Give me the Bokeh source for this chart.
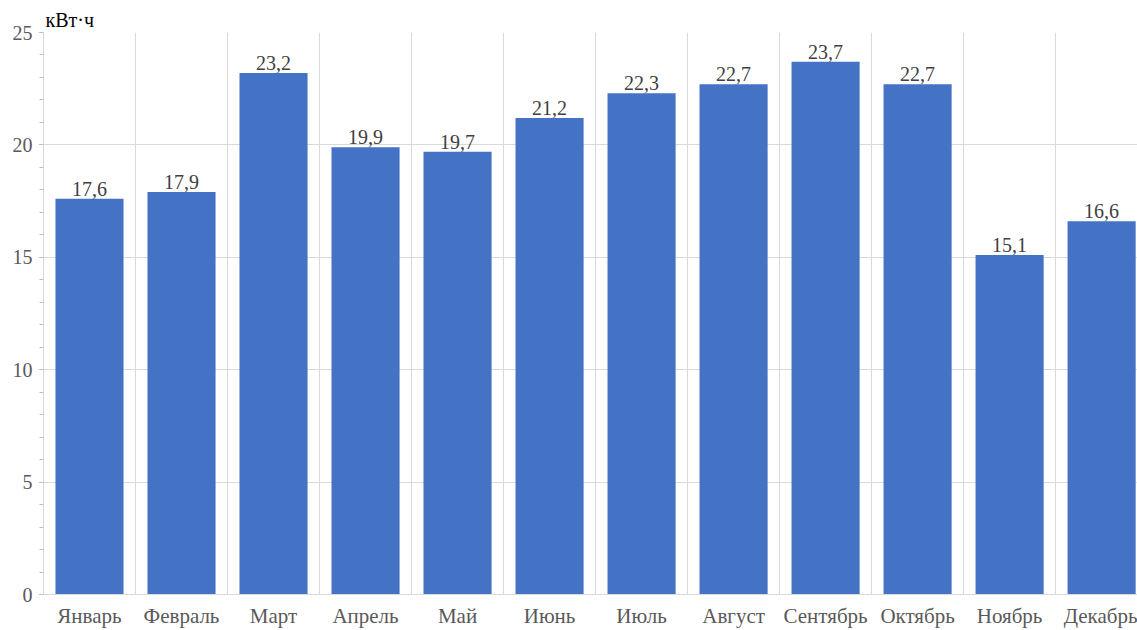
from bokeh.plotting import figure
from bokeh.models import ColumnDataSource, FixedTicker, LabelSet, Range1d
from bokeh.embed import file_html
from bokeh.resources import INLINE

months = ["Январь", "Февраль", "Март", "Апрель", "Май", "Июнь", "Июль",
          "Август", "Сентябрь", "Октябрь", "Ноябрь", "Декабрь"]
values = [17.6, 17.9, 23.2, 19.9, 19.7, 21.2, 22.3, 22.7, 23.7, 22.7, 15.1, 16.6]
y_ticks = [0, 5, 10, 15, 20, 25]
unit = "кВт·ч"

FONT = "Liberation Serif"
FS = "20px"
pos = [i + 0.5 for i in range(len(months))]
src = ColumnDataSource(dict(x=pos, top=values,
                            label=[f"{v:.1f}".replace(".", ",") for v in values]))

p = figure(width=1137, height=630, output_backend="svg", toolbar_location=None,
           x_range=Range1d(0, 11.89), y_range=Range1d(0, 25),
           title=unit)
p.min_border_left = 43
p.min_border_right = 0
p.min_border_top = 32
p.min_border_bottom = 34
p.outline_line_color = None
p.background_fill_color = "white"
p.border_fill_color = "white"

p.title.align = "left"
p.title.vertical_align = "bottom"
p.title.text_font = FONT
p.title.text_font_size = FS
p.title.text_font_style = "normal"
p.title.text_color = "#000000"
p.title.offset = 2
p.title.standoff = 3

p.vbar(x="x", top="top", width=0.74, bottom=0, source=src,
       fill_color="#4472C4", line_color=None)

p.add_layout(LabelSet(x="x", y="top", text="label", source=src,
                      text_align="center", text_baseline="bottom", y_offset=3,
                      text_font=FONT, text_font_size=FS, text_color="#404040"))

# x axis
p.xaxis.ticker = FixedTicker(ticks=pos)
p.xaxis.major_label_overrides = {x: m for x, m in zip(pos, months)}
p.xaxis.major_tick_line_color = None
p.xaxis.minor_tick_line_color = None
p.xaxis.axis_line_color = "#d9d9d9"
p.xaxis.axis_line_width = 1
p.xaxis.major_label_text_font = FONT
p.xaxis.major_label_text_font_size = "21px"
p.xaxis.major_label_text_color = "#595959"
p.xaxis.major_label_standoff = 3

# y axis
p.yaxis.ticker = FixedTicker(ticks=y_ticks, minor_ticks=list(range(0, 26)))
p.yaxis.axis_line_color = "#d9d9d9"
p.yaxis.major_tick_line_color = "#d9d9d9"
p.yaxis.major_tick_out = 5
p.yaxis.major_tick_in = 0
p.yaxis.minor_tick_line_color = "#bfbfbf"
p.yaxis.minor_tick_out = 4
p.yaxis.minor_tick_in = 0
p.yaxis.major_label_text_font = FONT
p.yaxis.major_label_text_font_size = FS
p.yaxis.major_label_text_color = "#595959"
p.yaxis.major_label_standoff = 6

# grids
p.xgrid.ticker = FixedTicker(ticks=list(range(1, 12)))
p.xgrid.grid_line_color = "#d9d9d9"
p.ygrid.ticker = FixedTicker(ticks=y_ticks)
p.ygrid.grid_line_color = "#d9d9d9"

open("out.html", "w").write(file_html(p, INLINE))
